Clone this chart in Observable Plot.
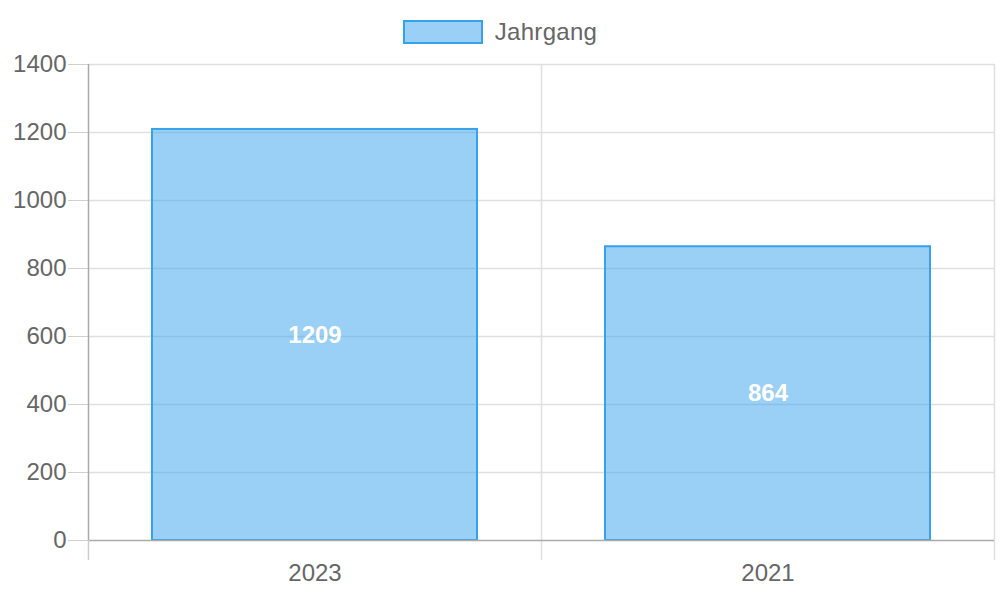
<!DOCTYPE html>
<html>
<head>
<meta charset="utf-8">
<script src="https://cdn.jsdelivr.net/npm/d3@7"></script>
<script src="https://cdn.jsdelivr.net/npm/@observablehq/plot@0.6"></script>
<style>
  html, body { margin: 0; padding: 0; background: #fff; }
  body { font-family: "Liberation Sans", Arial, Helvetica, sans-serif; width: 1000px; }
  #legend { height: 52px; box-sizing: border-box; padding-top: 20px; display: flex; justify-content: center; align-items: flex-start; }
  #legend .sw { width: 80px; height: 24px; box-sizing: border-box; border: 2px solid #36a2eb; background: rgba(54,162,235,0.5); }
  #legend .lab { margin-left: 12px; font-size: 24px; line-height: 24px; color: #666; letter-spacing: 0.3px; }
  svg { display: block; }
</style>
</head>
<body>
<div id="legend"><div class="sw"></div><div class="lab">Jahrgang</div></div>
<div id="chart"></div>
<script>
const seriesName = "Jahrgang";
const years = ["2023", "2021"];
const values = [1209, 864];
const yTicks = [0, 200, 400, 600, 800, 1000, 1200, 1400];

const data = years.map((y, i) => ({year: y, value: values[i]}));

const W = 1000, H = 548;
const mL = 88, mR = 6, mT = 12, mB = 60;
const step = (W - mL - mR) / years.length;
const gridColor = "#e0e0e0";
const axisColor = "#aaaaaa";

const chart = Plot.plot({
  width: W,
  height: H,
  marginLeft: mL,
  marginRight: mR,
  marginTop: mT,
  marginBottom: mB,
  style: {fontFamily: '"Liberation Sans", Arial, Helvetica, sans-serif', fontSize: "24px", color: "#666", background: "#fff", overflow: "visible"},
  x: {type: "band", domain: years, padding: 0, label: null},
  y: {domain: [0, 1400], label: null},
  marks: [
    Plot.ruleY(yTicks.filter(d => d > 0), {y: d => d, stroke: gridColor, strokeWidth: 1.5}),
    Plot.ruleX(years.slice(1), {x: d => d, dx: -step / 2, stroke: gridColor, strokeWidth: 1.5, insetBottom: -20}),
    Plot.ruleX(years.slice(-1), {x: d => d, dx: step / 2, stroke: gridColor, strokeWidth: 1.5, insetBottom: -20}),
    Plot.axisY({ticks: yTicks, tickFormat: d => String(d), tickSize: 20, tickPadding: 2, stroke: "#d0d0d0", fill: "#666", fontSize: 24, label: null}),
    Plot.axisX({tickSize: 0, tickPadding: 23, fill: "#666", fontSize: 24, label: null}),
    Plot.barY(data, {x: "year", y: "value", fill: "rgba(54,162,235,0.5)", stroke: "#36a2eb", strokeWidth: 2, insetLeft: 64, insetRight: 64}),
    Plot.ruleY([0], {stroke: axisColor, strokeWidth: 1.5}),
    Plot.ruleX(years.slice(0, 1), {x: d => d, dx: -step / 2, stroke: axisColor, strokeWidth: 1.5}),
    Plot.ruleX(years.slice(0, 1), {x: d => d, dx: -step / 2, stroke: "#cccccc", strokeWidth: 1.5, y1: 0, insetBottom: -20, insetTop: 0}),
    Plot.text(data, {x: "year", y: d => d.value / 2, text: d => String(d.value), fill: "white", fontWeight: "bold", fontSize: 24, letterSpacing: "0.5px"})
  ]
});
document.getElementById("chart").appendChild(chart);
</script>
</body>
</html>
